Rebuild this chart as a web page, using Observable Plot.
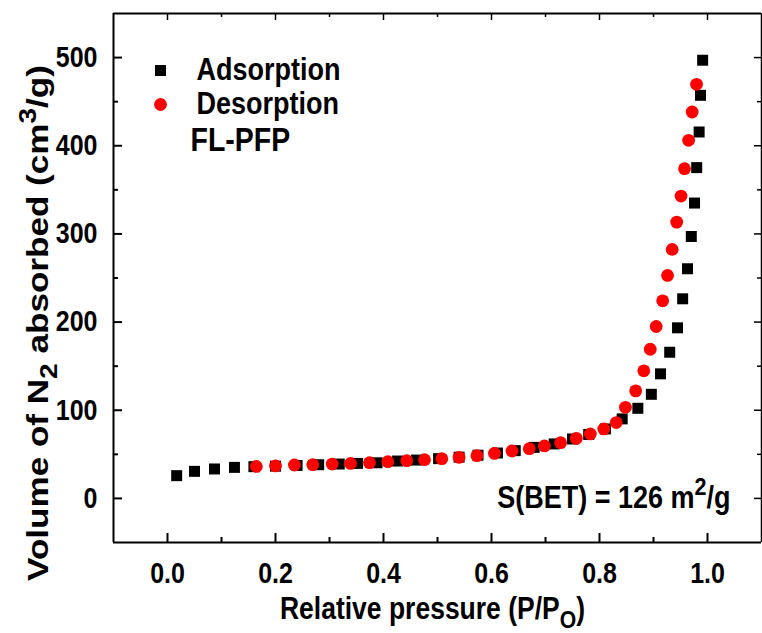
<!DOCTYPE html>
<html>
<head>
<meta charset="utf-8">
<script src="https://cdn.jsdelivr.net/npm/d3@7"></script>
<script src="https://cdn.jsdelivr.net/npm/@observablehq/plot@0.6"></script>
<style>
  html, body { margin: 0; padding: 0; background: #fff; }
</style>
</head>
<body>
<div id="chart"></div>
<script>
// Adsorption branch (black squares)
const adsX = [0.017, 0.050, 0.087, 0.124, 0.160, 0.200, 0.240, 0.280, 0.318, 0.352, 0.388, 0.426, 0.461, 0.502, 0.540, 0.575, 0.611, 0.644, 0.679, 0.716, 0.750, 0.780, 0.811, 0.842, 0.871, 0.896, 0.913, 0.930, 0.9445, 0.954, 0.963, 0.970, 0.976, 0.980, 0.9845, 0.987, 0.991];
const adsY = [25.8, 30.7, 33.4, 35.2, 36.0, 36.6, 37.4, 38.2, 39.0, 39.7, 40.4, 42.4, 43.5, 45.1, 46.8, 49.0, 51.5, 54.2, 57.9, 61.8, 67.4, 72.5, 78.8, 90.2, 102.2, 118.1, 141.3, 165.8, 193.5, 226.4, 260.5, 297.1, 335.0, 375.2, 415.6, 457.2, 497.0];
// Desorption branch (red circles)
const desX = [0.1645, 0.200, 0.235, 0.269, 0.305, 0.339, 0.374, 0.408, 0.443, 0.476, 0.508, 0.540, 0.573, 0.6055, 0.638, 0.670, 0.698, 0.728, 0.757, 0.783, 0.808, 0.831, 0.848, 0.867, 0.882, 0.894, 0.905, 0.917, 0.926, 0.9346, 0.943, 0.951, 0.9575, 0.965, 0.9716, 0.9797];
const desY = [36.3, 36.8, 37.9, 38.3, 39.0, 39.7, 40.5, 41.7, 42.8, 43.9, 45.1, 46.6, 48.5, 51.1, 53.8, 56.4, 59.5, 63.2, 68.1, 73.1, 78.8, 86.0, 103.3, 122.0, 144.7, 169.2, 195.0, 224.1, 252.9, 282.4, 313.4, 342.9, 374.0, 406.2, 438.3, 469.7];

const xTicks = [0, 0.2, 0.4, 0.6, 0.8, 1.0];
const xMinor = [0.1, 0.3, 0.5, 0.7, 0.9];
const yTicks = [0, 100, 200, 300, 400, 500];
const yMinor = [50, 150, 250, 350, 450];
const legendLabels = ["Adsorption", "Desorption"];
const sampleName = "FL-PFP";
const betText = "S(BET) = 126 m2/g";
const xTitle = "Relative pressure (P/PO)";
const yTitle = "Volume of N2 absorbed (cm3/g)";

const ads = adsX.map((x, i) => ({x, y: adsY[i]}));
const des = desX.map((x, i) => ({x, y: desY[i]}));

const W = 762, H = 633, mL = 113, mR = 1, mT = 13, mB = 91;
const innerW = W - mL - mR, innerH = H - mT - mB;
const font = "'Liberation Sans', Arial, Helvetica, sans-serif";

const plot = Plot.plot({
  width: W, height: H,
  marginLeft: mL, marginRight: mR, marginTop: mT, marginBottom: mB,
  x: {domain: [-0.1, 1.1], label: null},
  y: {domain: [-50, 550], label: null},
  style: {fontFamily: font, fontWeight: "bold", color: "#000", background: "#fff", overflow: "visible"},
  marks: [
    Plot.dot(ads, {x: "x", y: "y", symbol: "square", r: 6.2, fill: "#000"}),
    Plot.dot(des, {x: "x", y: "y", symbol: "circle", r: 6.4, fill: "#ff0000"}),
    // frame
    Plot.ruleX([-0.1], {stroke: "#000", strokeWidth: 2}),
    Plot.ruleX([1.1], {stroke: "#000", strokeWidth: 1.5}),
    Plot.ruleY([-50], {stroke: "#000", strokeWidth: 2}),
    Plot.ruleY([550], {stroke: "#000", strokeWidth: 2}),
    // inward ticks bottom / top
    Plot.ruleX(xTicks, {x: d => d, insetTop: innerH - 9, stroke: "#000", strokeWidth: 2}),
    Plot.ruleX(xMinor, {x: d => d, insetTop: innerH - 5, stroke: "#000", strokeWidth: 2}),
    Plot.ruleX(xTicks, {x: d => d, insetBottom: innerH - 7, stroke: "#000", strokeWidth: 1.5}),
    Plot.ruleX(xMinor, {x: d => d, insetBottom: innerH - 4, stroke: "#000", strokeWidth: 1.5}),
    // inward ticks left / right
    Plot.ruleY(yTicks, {y: d => d, insetRight: innerW - 9, stroke: "#000", strokeWidth: 2}),
    Plot.ruleY(yMinor, {y: d => d, insetRight: innerW - 5, stroke: "#000", strokeWidth: 2}),
    Plot.ruleY(yTicks, {y: d => d, insetLeft: innerW - 7, stroke: "#000", strokeWidth: 1.5}),
    Plot.ruleY(yMinor, {y: d => d, insetLeft: innerW - 4, stroke: "#000", strokeWidth: 1.5}),
    // axes labels
    Plot.axisX(xTicks, {tickSize: 0, tickPadding: 21, tickFormat: d3.format(".1f"), fontSize: 25, fontWeight: "bold", label: null}),
    Plot.axisY(yTicks, {tickSize: 0, tickPadding: 16, tickFormat: d3.format("d"), fontSize: 25, fontWeight: "bold", label: null}),
    // legend
    Plot.dot([legendLabels[0]], {frameAnchor: "top-left", dx: 47, dy: 57, symbol: "square", r: 6.2, fill: "#000"}),
    Plot.dot([legendLabels[1]], {frameAnchor: "top-left", dx: 47, dy: 91, symbol: "circle", r: 6.4, fill: "#ff0000"}),
    Plot.text([legendLabels[0]], {text: d => d, frameAnchor: "top-left", dx: 83, dy: 57, textAnchor: "start", lineAnchor: "middle", fontSize: 27, fontWeight: "bold", fill: "#000"}),
    Plot.text([legendLabels[1]], {text: d => d, frameAnchor: "top-left", dx: 83, dy: 91, textAnchor: "start", lineAnchor: "middle", fontSize: 27, fontWeight: "bold", fill: "#000"}),
    Plot.text([sampleName], {text: d => d, frameAnchor: "top-left", dx: 77, dy: 127, textAnchor: "start", lineAnchor: "middle", fontSize: 28.5, fontWeight: "bold", fill: "#000"}),
    // BET annotation
    Plot.text([betText], {text: d => d, frameAnchor: "bottom-right", dx: -31, dy: -45, textAnchor: "end", lineAnchor: "middle", fontSize: 27, fontWeight: "bold", fill: "#000"}),
    // axis titles
    Plot.text([xTitle], {text: d => d, frameAnchor: "bottom", dx: -5, dy: 67, textAnchor: "middle", lineAnchor: "middle", fontSize: 26.5, fontWeight: "bold", fill: "#000"}),
    Plot.text([yTitle], {text: d => d, frameAnchor: "left", dx: -75, dy: 45, rotate: -90, textAnchor: "middle", lineAnchor: "middle", fontSize: 30, fontWeight: "bold", fill: "#000"})
  ]
});

function rich(svg, key, parts, fs) {
  svg.querySelectorAll("text").forEach(t => {
    if (t.textContent !== key) return;
    t.textContent = "";
    let shift = 0;
    for (const [s, k] of parts) {
      const ts = document.createElementNS("http://www.w3.org/2000/svg", "tspan");
      const target = k === "sup" ? -0.42 * fs : k === "sub" ? 0.3 * fs : 0;
      ts.setAttribute("dy", (target - shift).toFixed(2));
      shift = target;
      if (k) ts.setAttribute("font-size", (0.8 * fs).toFixed(2));
      ts.textContent = s;
      t.appendChild(ts);
    }
  });
}
rich(plot, betText, [["S(BET) = 126 m", ""], ["2", "sup"], ["/g", ""]], 27);
rich(plot, xTitle, [["Relative pressure (P/P", ""], ["O", "sub"], [")", ""]], 26.5);
rich(plot, yTitle, [["Volume of N", ""], ["2", "sub"], [" absorbed (cm", ""], ["3", "sup"], ["/g)", ""]], 30);

document.getElementById("chart").appendChild(plot);

// The reference typeface is slightly elongated vertically: stretch texts about their own centre.
plot.querySelectorAll("text").forEach(t => {
  const bb = t.getBBox();
  const tr = t.getAttribute("transform") || "";
  if (t.textContent === "Volume of N2 absorbed (cm3/g)") {
    const cx = bb.x + bb.width / 2;
    t.setAttribute("transform", `${tr} translate(${cx},0) scale(1.17,1) translate(${-cx},0)`);
  } else {
    const cy = bb.y + bb.height / 2;
    t.setAttribute("transform", `${tr} translate(0,${cy}) scale(1,1.15) translate(0,${-cy})`);
  }
});
</script>
</body>
</html>
